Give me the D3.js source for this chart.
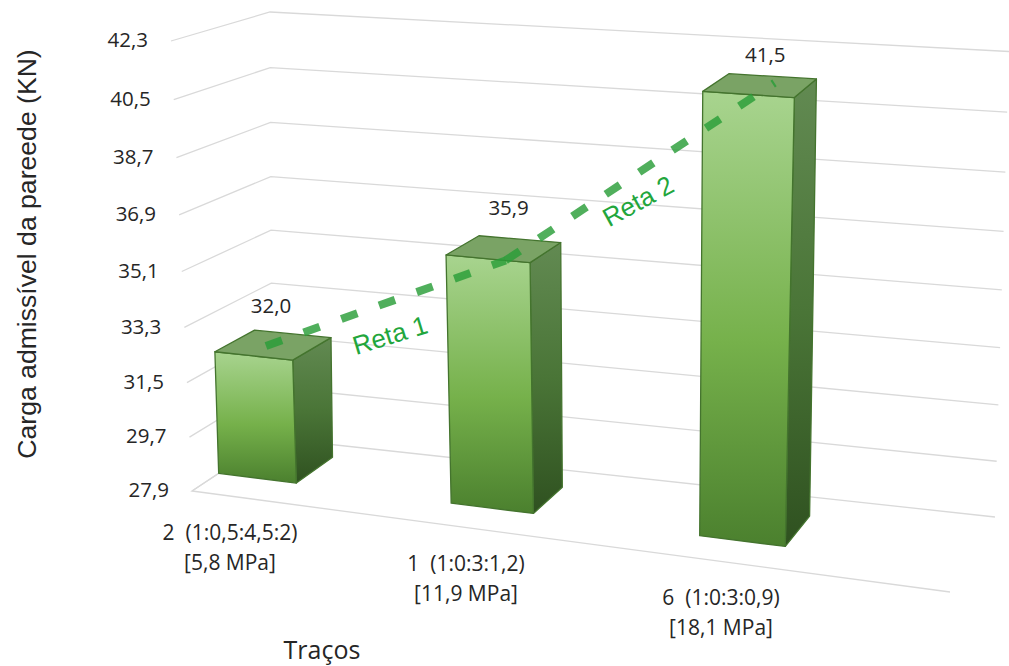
<!DOCTYPE html>
<html lang="pt">
<head>
<meta charset="utf-8">
<title>Carga admissível da parede por traço</title>
<script src="https://cdn.jsdelivr.net/npm/d3@7/dist/d3.min.js"></script>
<style>
  html, body { margin: 0; padding: 0; background: #fff; overflow: hidden; }
  svg { display: block; }
  text { fill: #262626; font-family: "Open Sans", sans-serif; }
</style>
</head>
<body>
<svg id="chart" width="1009" height="666"></svg>
<script>
// Chart data
const categories = ["2", "1", "6"];
const traceLabels = ["2  (1:0,5:4,5:2)", "1  (1:0:3:1,2)", "6  (1:0:3:0,9)"];
const strengthLabels = ["[5,8 MPa]", "[11,9 MPa]", "[18,1 MPa]"];
const loads = [32.0, 35.9, 41.5];
const axisTicks = [27.9, 29.7, 31.5, 33.3, 35.1, 36.9, 38.7, 40.5, 42.3];
const trendNames = ["Reta 1", "Reta 2"];

const svg = d3.select("#chart");
const fmt = d3.formatLocale({ decimal: ",", thousands: ".", grouping: [3], currency: ["", ""] }).format(".1f");

// Perspective map from the unit square onto a quadrilateral (front-left, front-right, back-right, back-left).
function quadMap([p0, p1, p2, p3]) {
  const sx = p0[0] - p1[0] + p2[0] - p3[0], sy = p0[1] - p1[1] + p2[1] - p3[1];
  const dx1 = p1[0] - p2[0], dx2 = p3[0] - p2[0], dy1 = p1[1] - p2[1], dy2 = p3[1] - p2[1];
  const det = dx1 * dy2 - dx2 * dy1;
  const g = (sx * dy2 - dx2 * sy) / det, h = (dx1 * sy - sx * dy1) / det;
  const a = p1[0] - p0[0] + g * p1[0], b = p3[0] - p0[0] + h * p3[0];
  const d = p1[1] - p0[1] + g * p1[1], e = p3[1] - p0[1] + h * p3[1];
  return (u, w) => {
    const q = 1 + g * u + h * w;
    return [(p0[0] + a * u + b * w) / q, (p0[1] + d * u + e * w) / q];
  };
}

// Chart box: floor and ceiling planes of the 3D plot.
const floorMap = quadMap([[192, 491], [950, 592], [995, 517], [272, 438]]);
const ceilMap = quadMap([[171, 41], [981, 96.8], [1009, 51.5], [270, 12]]);

// Value axis with the slight stretch toward the top that the camera gives it.
const heightScale = d3.scaleLinear().domain([27.9, 42.3]).range([0, 1]);
const lift = value => { const v = heightScale(value); return v / (1 + 0.05 * (1 - v)); };

function project(u, w, value) {
  const f = floorMap(u, w), c = ceilMap(u, w), t = lift(value);
  return [f[0] + (c[0] - f[0]) * t, f[1] + (c[1] - f[1]) * t];
}

// Footprint of each column on the floor plane.
const spanU = d3.scaleOrdinal(categories, [[0.0, 0.13], [0.369, 0.485], [0.702, 0.804]]);
const spanW = d3.scaleOrdinal(categories, [[0.32, 0.79], [0.31, 0.735], [0.292, 0.73]]);

// Colours
const defs = svg.append("defs");
const gradient = (id, stops) => defs.append("linearGradient").attr("id", id)
  .attr("x1", 0).attr("y1", 0).attr("x2", 0).attr("y2", 1)
  .selectAll("stop").data(stops).join("stop")
  .attr("offset", d => d[0]).attr("stop-color", d => d[1]);
gradient("front", [[0, "#a8d48f"], [0.55, "#76b14b"], [1, "#4b802e"]]);
gradient("side", [[0, "#628a52"], [0.5, "#4a7537"], [1, "#2f5120"]]);

// Gridlines on the left and back walls, plus the floor outline.
const line = d3.line();
const grid = svg.append("g").attr("fill", "none").attr("stroke", "#d9d9d9").attr("stroke-width", 1.3);
grid.selectAll("path.wall").data(axisTicks).join("path").attr("class", "wall")
  .attr("d", t => line([project(0, 0, t), project(0, 1, t), project(1, 1, t)]));
grid.append("path").attr("d", line([project(0, 1, 27.9), project(0, 0, 27.9), project(1, 0, 27.9)]));

// Value axis labels
svg.append("g").selectAll("text").data(axisTicks).join("text")
  .attr("x", t => project(0, 0, t)[0] - 23)
  .attr("y", t => project(0, 0, t)[1] - 1)
  .attr("dy", "0.35em")
  .attr("text-anchor", "end")
  .attr("font-size", 20.5)
  .text(fmt);

// Columns
const bars = svg.append("g").selectAll("g").data(categories).join("g");
const facePath = pts => line(pts) + "Z";
const faceStroke = sel => sel.attr("stroke", "#44742e").attr("stroke-width", 1.3).attr("stroke-linejoin", "round");
bars.append("path").attr("fill", "url(#side)").call(faceStroke)
  .attr("d", (c, i) => {
    const [, u1] = spanU(c), [w0, w1] = spanW(c);
    return facePath([project(u1, w0, loads[i]), project(u1, w1, loads[i]), project(u1, w1, 27.9), project(u1, w0, 27.9)]);
  });
bars.append("path").attr("fill", "url(#front)").call(faceStroke)
  .attr("d", (c, i) => {
    const [u0, u1] = spanU(c), [w0] = spanW(c);
    return facePath([project(u0, w0, loads[i]), project(u1, w0, loads[i]), project(u1, w0, 27.9), project(u0, w0, 27.9)]);
  });
bars.append("path").attr("fill", "#7aa365").call(faceStroke)
  .attr("d", (c, i) => {
    const [u0, u1] = spanU(c), [w0, w1] = spanW(c);
    return facePath([project(u0, w0, loads[i]), project(u1, w0, loads[i]), project(u1, w1, loads[i]), project(u0, w1, loads[i])]);
  });

// Value labels above each column
const labelLift = d3.scaleOrdinal(categories, [39, 41, 30]);
const labelShift = d3.scaleOrdinal(categories, [-2, 5, 5]);
bars.append("text")
  .attr("x", (c, i) => { const u = spanU(c), w = spanW(c); return project(d3.mean(u), d3.mean(w), loads[i])[0] + labelShift(c); })
  .attr("y", (c, i) => { const u = spanU(c), w = spanW(c); return project(d3.mean(u), d3.mean(w), loads[i])[1] - labelLift(c); })
  .attr("dy", "0.35em")
  .attr("text-anchor", "middle")
  .attr("font-size", 20.5)
  .text((c, i) => fmt(loads[i]));

// Dashed trend lines joining the column tops.
const anchorU = [0.058, 0.452, 0.765];
const anchorW = [0.52, 0.31, 0.58];
const anchors = loads.map((v, i) => project(anchorU[i], anchorW[i], v));
svg.append("g").attr("fill", "none")
  .attr("stroke", "#2a9d38").attr("stroke-opacity", 0.82)
  .attr("stroke-width", 8).attr("stroke-dasharray", "17 23")
  .selectAll("path").data(trendNames).join("path")
  .attr("d", (n, i) => line([anchors[i], anchors[i + 1]]));

// Labels along the trend lines
const trendPlace = [[390, 335, -17], [638, 201, -29]];
svg.append("g").selectAll("text").data(trendNames).join("text")
  .attr("transform", (n, i) => `translate(${trendPlace[i][0]},${trendPlace[i][1]}) rotate(${trendPlace[i][2]})`)
  .attr("dy", "0.35em")
  .attr("text-anchor", "middle")
  .attr("font-size", 26)
  .style("font-family", "'Liberation Sans', sans-serif")
  .style("fill", "#22a63c")
  .text(n => n);

// Category labels under the floor
const catX = d3.scaleOrdinal(categories, [230, 466, 721]);
const catY = d3.scaleOrdinal(categories, [533, 564, 598]);
const catLabels = svg.append("g").attr("text-anchor", "middle").attr("font-size", 21);
catLabels.selectAll("text.trace").data(categories).join("text").attr("class", "trace")
  .attr("x", c => catX(c)).attr("y", c => catY(c)).attr("dy", "0.35em")
  .style("white-space", "pre")
  .text((c, i) => traceLabels[i]);
catLabels.selectAll("text.strength").data(categories).join("text").attr("class", "strength")
  .attr("x", c => catX(c)).attr("y", c => catY(c) + 30).attr("dy", "0.35em")
  .text((c, i) => strengthLabels[i]);

// Axis titles
svg.append("text")
  .attr("x", 322).attr("y", 650).attr("dy", "0.35em")
  .attr("text-anchor", "middle").attr("font-size", 25)
  .text("Traços");
svg.append("text")
  .attr("transform", "translate(27,254) rotate(-90)")
  .attr("dy", "0.35em")
  .attr("text-anchor", "middle").attr("font-size", 26.6)
  .style("font-family", "'Liberation Sans', sans-serif")
  .text("Carga admissível da pareede (KN)");
</script>
</body>
</html>
